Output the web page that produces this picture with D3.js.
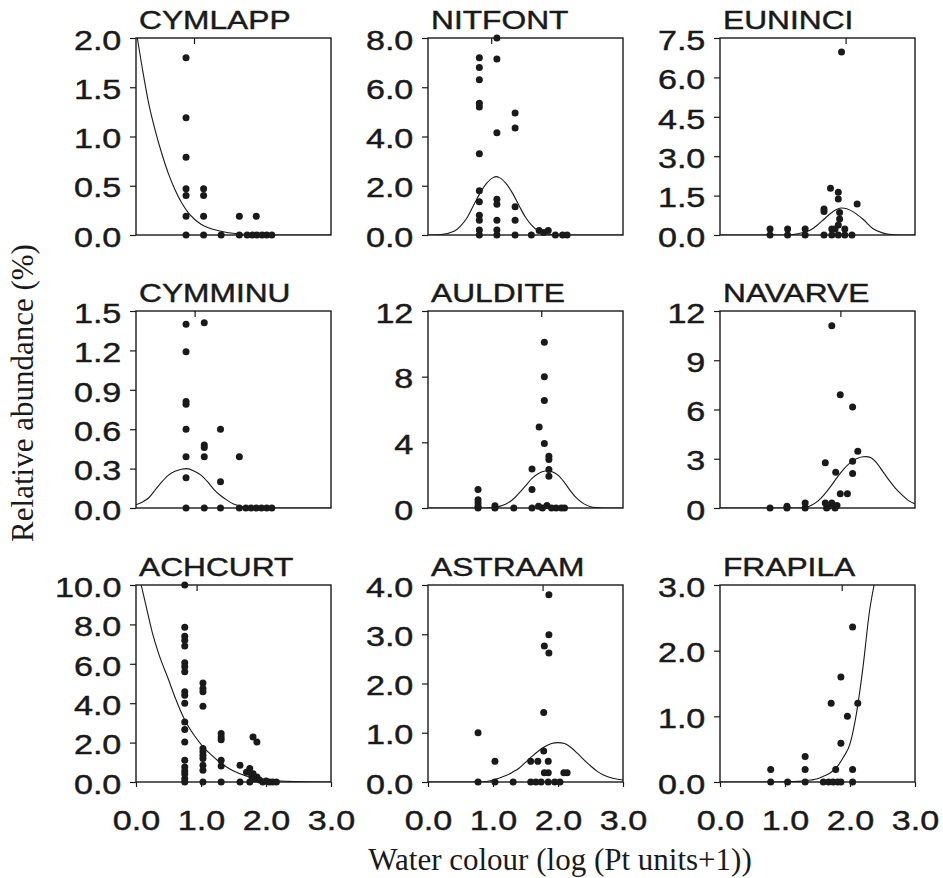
<!DOCTYPE html>
<html>
<head>
<meta charset="utf-8">
<script src="https://cdn.jsdelivr.net/npm/d3@7"></script>
<style>
body { margin: 0; background: #fff; }
</style>
</head>
<body>
<script>
// species codes, one panel each, read row by row
var titles = ["CYMLAPP", "NITFONT", "EUNINCI", "CYMMINU", "AULDITE", "NAVARVE", "ACHCURT", "ASTRAAM", "FRAPILA"];

// y tick values and their format for every panel
var yTicks = [
    [0, 0.5, 1.0, 1.5, 2.0],
    [0, 2, 4, 6, 8],
    [0, 1.5, 3.0, 4.5, 6.0, 7.5],
    [0, 0.3, 0.6, 0.9, 1.2, 1.5],
    [0, 4, 8, 12],
    [0, 3, 6, 9, 12],
    [0, 2, 4, 6, 8, 10],
    [0, 1, 2, 3, 4],
    [0, 1, 2, 3]
];
var yFormats = [".1f", ".1f", ".1f", ".1f", "d", "d", ".1f", ".1f", ".1f"];
var xTicks = [0, 1, 2, 3];

// small mark on the top edge of each panel (weighted average optimum)
var optima = [0.90, 0.98, 1.94, 0.91, 1.75, 1.86, 0.94, 1.77, 1.88];

// observed samples: [water colour, relative abundance]
var cymlappPts = [[0.77,1.80],[0.77,1.19],[0.77,0.79],[0.77,0.47],[0.77,0.40],[0.77,0.19],[0.77,0],
    [1.04,0.47],[1.04,0.40],[1.04,0.19],[1.04,0],[1.31,0],[1.59,0.19],[1.85,0.19],
    [1.59,0],[1.71,0],[1.79,0],[1.86,0],[1.94,0],[2.01,0],[2.09,0]];
var nitfontPts = [[0.79,7.2],[0.79,6.8],[0.79,6.3],[0.79,5.35],[0.79,5.2],[0.79,3.3],[0.79,1.8],
    [0.79,1.35],[0.79,0.8],[0.79,0.6],[0.79,0.2],[0.79,0],
    [1.06,8.0],[1.06,7.15],[1.06,4.15],[1.06,1.45],[1.06,1.25],[1.06,0.6],[1.06,0.2],[1.06,0],
    [1.34,4.95],[1.34,4.35],[1.34,1.15],[1.34,0.6],[1.34,0],
    [1.59,0],[1.71,0.18],[1.78,0.1],[1.85,0.18],[1.96,0],[2.07,0],[2.14,0]];
var euninciPts = [[0.77,0.23],[0.77,0],[1.04,0.23],[1.04,0],[1.31,0.23],[1.31,0],
    [1.6,0.99],[1.6,0.89],[1.6,0],[1.70,1.78],[1.82,1.63],[1.82,1.37],[1.84,0.86],[1.84,0.61],
    [1.82,0.38],[1.72,0.23],[1.77,0.23],[1.92,0.23],[2.11,1.18],
    [1.72,0],[1.82,0],[1.92,0],[2.03,0],[1.87,6.97]];
var cymminuPts = [[0.77,1.40],[0.77,1.19],[0.77,0.81],[0.77,0.79],[0.77,0.60],[0.77,0.39],[0.77,0.23],[0.77,0],
    [1.05,1.41],[1.05,0.48],[1.05,0.46],[1.05,0.39],[1.05,0],
    [1.30,0.60],[1.30,0.20],[1.30,0],[1.59,0.39],[1.59,0],
    [1.69,0],[1.77,0],[1.85,0],[1.93,0],[2.01,0],[2.09,0]];
var aulditePts = [[0.77,1.12],[0.77,0.5],[0.77,0.3],[0.77,0.1],[0.77,0],[1.03,0.14],[1.03,0],[1.32,0],
    [1.6,2.38],[1.6,1.12],[1.6,0],[1.71,4.94],
    [1.79,10.1],[1.79,8.0],[1.79,6.55],[1.79,3.93],
    [1.86,3.15],[1.86,2.95],[1.86,2.35],[1.86,1.93],
    [1.7,0.1],[1.76,0],[1.83,0.15],[1.9,0],[1.97,0],[2.05,0],[2.1,0]];
var navarvePts = [[0.77,0],[1.03,0.1],[1.03,0],[1.31,0.3],[1.31,0],
    [1.62,2.75],[1.72,11.1],[1.62,0.3],[1.64,0],[1.72,0.3],[1.77,0],[1.8,0.15],[1.67,0.1],
    [1.78,2.18],[1.85,6.9],[1.85,0.87],[1.96,0.87],
    [2.04,6.15],[2.04,2.85],[2.04,2.1],[2.12,3.46]];
var achcurtPts = [[0.75,10.0],[0.75,7.85],[0.75,7.4],[0.75,7.2],[0.75,6.9],[0.75,6.05],[0.75,5.85],[0.75,5.6],
    [0.75,4.58],[0.75,4.4],[0.75,4.0],[0.75,3.05],[0.75,2.66],[0.75,2.03],[0.75,1.1],[0.75,0.76],
    [0.75,0.56],[0.75,0.4],[0.75,0.17],[0.75,0],
    [1.03,5.03],[1.03,4.75],[1.03,4.58],[1.03,3.85],[1.03,1.7],[1.03,1.53],[1.03,1.36],[1.03,1.19],
    [1.03,0.85],[1.03,0.6],[1.03,0],
    [1.31,2.46],[1.31,2.29],[1.31,2.15],[1.31,1.1],[1.31,0.81],[1.31,0],
    [1.6,0.85],[1.6,0],[1.7,0.5],[1.75,0.68],[1.75,0],[1.78,0.3],[1.8,2.29],[1.8,0.42],
    [1.83,0.15],[1.86,2.03],[1.86,0.25],
    [1.9,0.1],[1.95,0],[2.0,0.05],[2.05,0],[2.1,0],[2.16,0]];
var astraamPts = [[0.77,1.0],[0.77,0],[1.03,0.42],[1.03,0],[1.31,0],
    [1.58,0.42],[1.69,0.42],[1.58,0],[1.66,0],[1.74,0],
    [1.78,1.41],[1.78,0.63],[1.79,2.76],[1.86,2.99],[1.86,2.62],[1.86,3.80],[1.85,0.42],
    [1.79,0.19],[1.85,0.19],[1.85,0],[1.95,0],[2.03,0],[2.09,0.19],[2.14,0.19]];
var frapilaPts = [[0.78,0.19],[0.78,0],[1.04,0],[1.31,0.39],[1.31,0.19],[1.31,0],
    [1.71,1.2],[1.59,0],[1.67,0],[1.74,0],[1.81,0],[1.86,0],
    [1.78,0.19],[1.86,1.6],[1.86,0.59],[1.96,1.0],[2.04,2.36],[2.04,0.19],[2.04,0],[2.12,1.2]];

// fitted response curves
var cymlappCurve = [[0.02,2.0],[0.1,1.68],[0.2,1.32],[0.3,1.05],[0.4,0.82],[0.5,0.62],[0.6,0.46],
    [0.7,0.33],[0.8,0.23],[0.9,0.16],[1.0,0.11],[1.2,0.055],[1.4,0.025],[1.6,0.01],[1.8,0.005],[2.0,0],[3.0,0]];
var nitfontCurve = [[0,0],[0.2,0.02],[0.4,0.15],[0.5,0.36],[0.6,0.7],[0.7,1.2],[0.8,1.7],[0.9,2.1],
    [1.0,2.33],[1.05,2.37],[1.1,2.33],[1.2,2.1],[1.3,1.7],[1.4,1.2],[1.5,0.72],[1.6,0.38],
    [1.7,0.16],[1.8,0.06],[2.0,0],[3.0,0]];
var euninciCurve = [[0,0],[1.0,0],[1.2,0.05],[1.4,0.2],[1.5,0.38],[1.6,0.6],[1.7,0.82],[1.8,0.98],
    [1.87,1.03],[1.95,1.0],[2.05,0.88],[2.2,0.6],[2.35,0.25],[2.5,0.08],[2.6,0.03],[2.75,0],[3.0,0]];
var cymminuCurve = [[0,0.025],[0.1,0.045],[0.2,0.08],[0.3,0.14],[0.4,0.2],[0.5,0.25],[0.6,0.28],
    [0.7,0.295],[0.78,0.3],[0.9,0.28],[1.0,0.25],[1.1,0.2],[1.2,0.14],[1.3,0.095],[1.4,0.06],
    [1.5,0.03],[1.6,0.015],[1.8,0],[3.0,0]];
var aulditeCurve = [[0,0],[0.9,0],[1.0,0.03],[1.1,0.1],[1.2,0.25],[1.3,0.5],[1.4,0.9],[1.5,1.35],
    [1.6,1.8],[1.7,2.1],[1.8,2.25],[1.85,2.26],[1.9,2.22],[2.0,2.0],[2.1,1.55],[2.2,1.0],
    [2.3,0.55],[2.4,0.25],[2.5,0.08],[2.6,0.02],[2.7,0],[3.0,0]];
var navarveCurve = [[0,0],[1.2,0],[1.3,0.03],[1.4,0.15],[1.5,0.4],[1.6,0.8],[1.7,1.3],[1.8,1.85],
    [1.9,2.35],[2.0,2.75],[2.1,3.0],[2.2,3.12],[2.25,3.13],[2.3,3.1],[2.4,2.8],[2.5,2.25],
    [2.6,1.7],[2.7,1.2],[2.8,0.8],[2.9,0.45],[3.0,0.25]];
var achcurtCurve = [[0.08,10.0],[0.15,9.0],[0.25,7.6],[0.35,6.5],[0.5,5.2],[0.6,4.3],[0.75,3.15],
    [0.9,2.35],[1.03,1.8],[1.15,1.4],[1.31,0.95],[1.45,0.65],[1.6,0.42],[1.8,0.2],[2.0,0.1],
    [2.3,0.04],[2.6,0.01],[3.0,0]];
var astraamCurve = [[0,0],[0.8,0],[0.9,0.01],[1.0,0.04],[1.1,0.08],[1.2,0.13],[1.3,0.2],[1.4,0.28],
    [1.5,0.4],[1.6,0.52],[1.7,0.63],[1.8,0.72],[1.9,0.78],[2.0,0.8],[2.1,0.78],[2.2,0.7],
    [2.3,0.58],[2.4,0.45],[2.5,0.33],[2.6,0.22],[2.7,0.14],[2.8,0.09],[2.9,0.06],[3.0,0.04]];
var frapilaCurve = [[0,0],[0.8,0],[1.0,0.003],[1.2,0.01],[1.4,0.03],[1.5,0.05],[1.6,0.09],[1.7,0.14],
    [1.8,0.23],[1.9,0.38],[2.0,0.58],[2.1,1.05],[2.2,1.75],[2.3,2.6],[2.37,3.0]];

var points = [cymlappPts, nitfontPts, euninciPts, cymminuPts, aulditePts, navarvePts, achcurtPts, astraamPts, frapilaPts];
var curves = [cymlappCurve, nitfontCurve, euninciCurve, cymminuCurve, aulditeCurve, navarveCurve, achcurtCurve, astraamCurve, frapilaCurve];

// page layout
var W = 943, H = 878;
var colLeft = [136, 428, 720];
var rowTop = [38, 311, 585];
var pw = 195, ph = 197;
var ink = "#1a1a1a";
var sansFont = "'Liberation Sans', Arial, sans-serif";
var serifFont = "'Liberation Serif', 'Times New Roman', serif";
var stretch = 1.22;   // the sans text in the figure is a little wide

// scanned print looks heavier, thicken the sans glyphs a little
function heavy(sel) {
    sel.attr("fill", ink)
        .attr("stroke", ink)
        .attr("stroke-width", 0.45)
        .style("font-family", sansFont);
}

var svg = d3.select("body").append("svg")
    .attr("width", W)
    .attr("height", H);

titles.forEach(function(name, i) {
    var col = i % 3, row = Math.floor(i / 3);
    var ticks = yTicks[i];
    var x = d3.scaleLinear().domain([0, 3]).range([0, pw]);
    var y = d3.scaleLinear().domain([0, ticks[ticks.length - 1]]).range([ph, 0]);

    var g = svg.append("g")
        .attr("transform", "translate(" + colLeft[col] + "," + rowTop[row] + ")");

    g.append("clipPath").attr("id", "clip" + i)
        .append("rect").attr("width", pw).attr("height", ph);

    // panel title
    g.append("text")
        .attr("transform", "translate(3," + (-9) + ") scale(" + stretch + ",1)")
        .style("font-size", "26px")
        .text(name)
        .call(heavy);

    // y axis
    var ya = g.append("g")
        .call(d3.axisLeft(y).tickValues(ticks).tickSize(6).tickPadding(6)
            .tickFormat(d3.format(yFormats[i])));
    ya.select(".domain").remove();
    ya.selectAll("line").attr("stroke", ink).attr("stroke-width", 1.2);
    ya.selectAll("text")
        .attr("dy", "0.40em")
        .attr("transform", "scale(" + stretch + ",1)")
        .style("font-size", "28px")
        .call(heavy);

    // x axis labels only on the bottom row
    if (row === 2) {
        var xa = g.append("g")
            .attr("transform", "translate(0," + ph + ")")
            .call(d3.axisBottom(x).tickValues(xTicks).tickSize(5).tickPadding(23)
                .tickFormat(d3.format(".1f")));
        xa.select(".domain").remove();
        xa.selectAll("line").attr("stroke", ink).attr("stroke-width", 1.2);
        xa.selectAll("text")
            .attr("transform", "scale(" + stretch + ",1)")
            .style("font-size", "28px")
            .call(heavy);
    }

    // frame
    g.append("rect")
        .attr("width", pw)
        .attr("height", ph)
        .attr("fill", "none")
        .attr("stroke", ink)
        .attr("stroke-width", 1.4);

    // optimum mark on the top edge
    g.append("line")
        .attr("x1", x(optima[i])).attr("x2", x(optima[i]))
        .attr("y1", 0).attr("y2", 6)
        .attr("stroke", ink)
        .attr("stroke-width", 1.2);

    // fitted curve
    var line = d3.line()
        .x(function(d) { return x(d[0]); })
        .y(function(d) { return y(d[1]); })
        .curve(d3.curveMonotoneX);
    g.append("path")
        .datum(curves[i])
        .attr("clip-path", "url(#clip" + i + ")")
        .attr("d", line)
        .attr("fill", "none")
        .attr("stroke", ink)
        .attr("stroke-width", 1.1);

    // samples
    g.selectAll("circle")
        .data(points[i])
        .enter()
        .append("circle")
        .attr("cx", function(d) { return x(d[0]); })
        .attr("cy", function(d) { return y(d[1]); })
        .attr("r", 3.5)
        .attr("fill", ink);
});

// shared axis titles
svg.append("text")
    .attr("transform", "translate(33,393) rotate(-90)")
    .attr("text-anchor", "middle")
    .style("font-family", serifFont)
    .style("font-size", "31px")
    .attr("fill", ink)
    .text("Relative abundance (%)");

svg.append("text")
    .attr("x", 560)
    .attr("y", 870)
    .attr("text-anchor", "middle")
    .style("font-family", serifFont)
    .style("font-size", "31px")
    .attr("fill", ink)
    .text("Water colour (log (Pt units+1))");
</script>
</body>
</html>
